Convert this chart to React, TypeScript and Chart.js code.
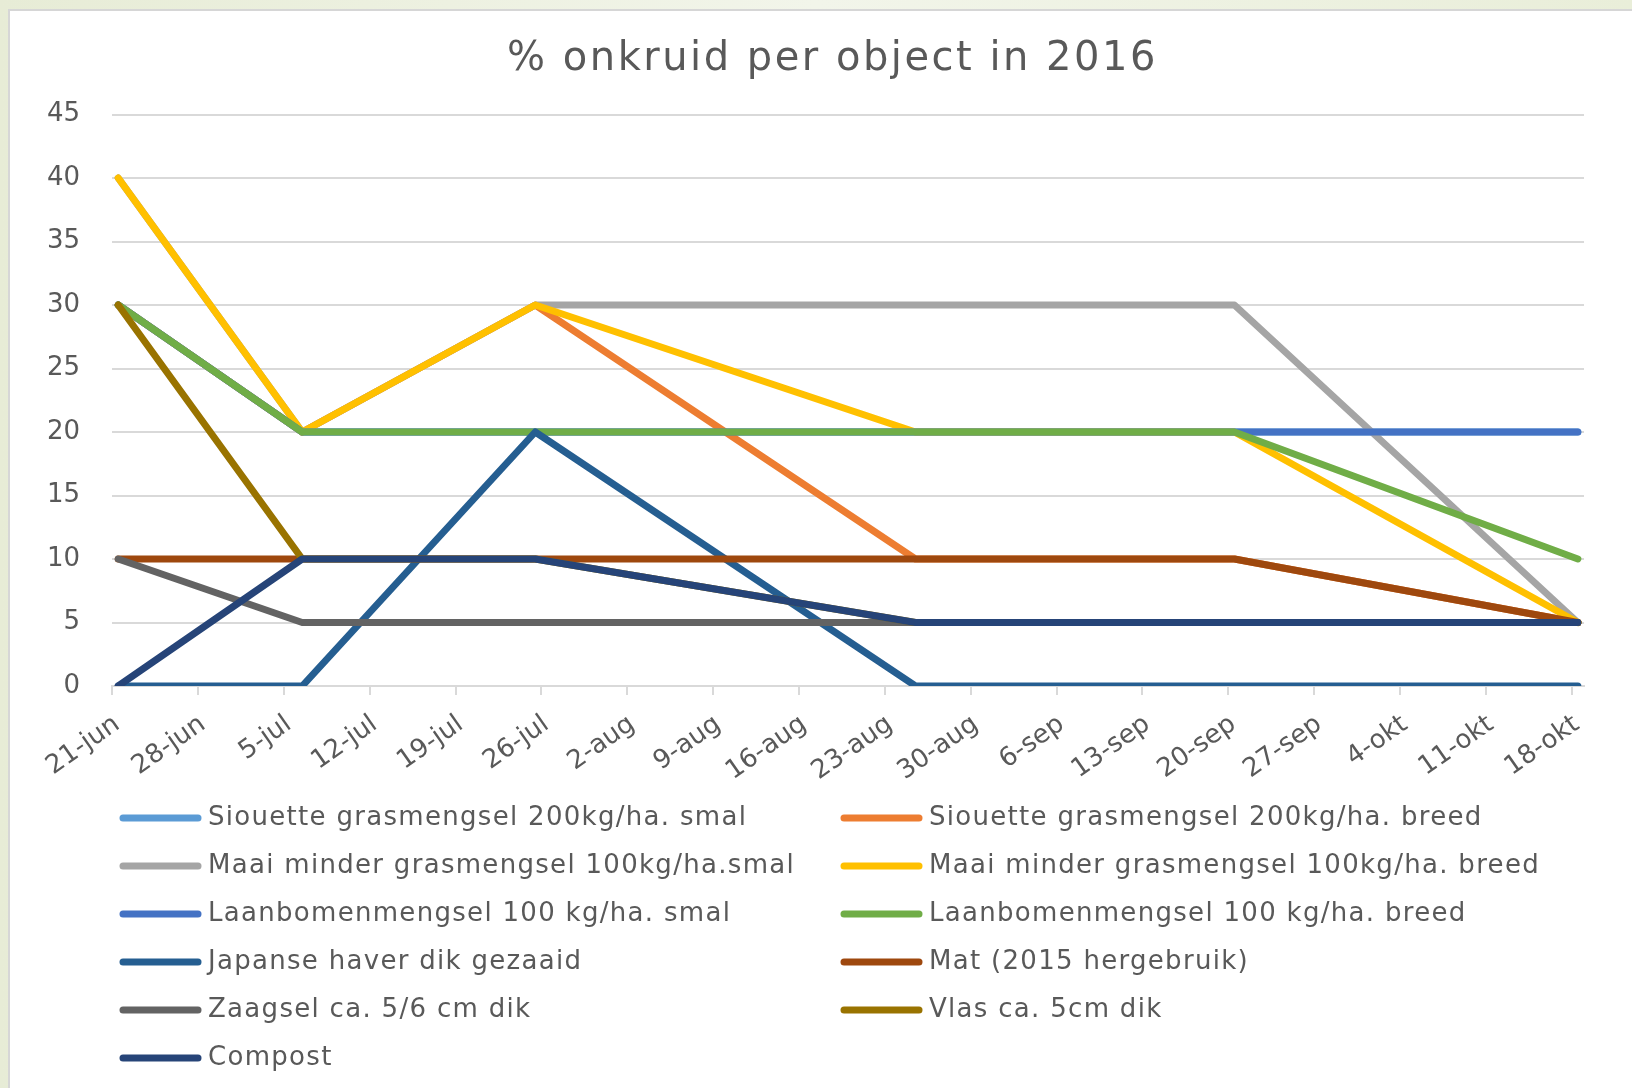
import React, { useEffect, useRef } from "react";
import { Chart, registerables } from "chart.js";

Chart.register(...registerables);

// Tick labels of the weekly date axis (21-jun .. 18-okt 2016)
const tickDates = [
  "21-jun", "28-jun", "5-jul", "12-jul", "19-jul", "26-jul", "2-aug", "9-aug", "16-aug",
  "23-aug", "30-aug", "6-sep", "13-sep", "20-sep", "27-sep", "4-okt", "11-okt", "18-okt",
];

// Observation dates, as days since 21-jun: 21-jun, 6-jul, 25-jul, 25-aug, 20-sep, 18-okt
const sampleDays = [0, 15, 34, 65, 91, 119];

const seriesNames = [
  "Siouette grasmengsel 200kg/ha. smal",
  "Siouette grasmengsel 200kg/ha. breed",
  "Maai minder grasmengsel 100kg/ha.smal",
  "Maai minder grasmengsel 100kg/ha. breed",
  "Laanbomenmengsel 100 kg/ha. smal",
  "Laanbomenmengsel 100 kg/ha. breed",
  "Japanse haver dik gezaaid",
  "Mat (2015 hergebruik)",
  "Zaagsel ca. 5/6 cm dik",
  "Vlas ca. 5cm dik",
  "Compost",
];

const seriesColors = [
  "#5B9BD5", "#ED7D31", "#A5A5A5", "#FFC000", "#4472C4", "#70AD47",
  "#255E91", "#9E480E", "#636363", "#997300", "#264478",
];

// % onkruid per observation date
const siouetteSmal = [30, 20, 20, 20, 20, 20];
const siouetteBreed = [30, 20, 30, 10, 10, 5];
const maaiMinderSmal = [40, 20, 30, 30, 30, 5];
const maaiMinderBreed = [40, 20, 30, 20, 20, 5];
const laanbomenSmal = [30, 20, 20, 20, 20, 20];
const laanbomenBreed = [30, 20, 20, 20, 20, 10];
const japanseHaver = [0, 0, 20, 0, 0, 0];
const mat = [10, 10, 10, 10, 10, 5];
const zaagsel = [10, 5, 5, 5, 5, 5];
const vlas = [30, 10, 10, 5, 5, 5];
const compost = [0, 10, 10, 5, 5, 5];

const seriesValues = [
  siouetteSmal, siouetteBreed, maaiMinderSmal, maaiMinderBreed, laanbomenSmal,
  laanbomenBreed, japanseHaver, mat, zaagsel, vlas, compost,
];

const FONT = "'DejaVu Sans', sans-serif";
const TEXT = "#595959";
const GRID = "#D9D9D9";

const legendPlugin = {
  id: "twoColumnLegend",
  afterDraw(chart: any) {
    const ctx = chart.ctx;
    const top = chart.chartArea.bottom + 132;
    const rowH = 48;
    ctx.save();
    ctx.font = `26px ${FONT}`;
    (ctx as any).letterSpacing = "1.3px";
    ctx.textBaseline = "middle";
    ctx.textAlign = "left";
    chart.data.datasets.forEach((ds: any, i: number) => {
      const col = i % 2;
      const row = Math.floor(i / 2);
      const x0 = col === 0 ? 110 : 831;
      const y = top + row * rowH;
      ctx.strokeStyle = ds.borderColor;
      ctx.lineWidth = 7;
      ctx.lineCap = "round";
      ctx.beginPath();
      ctx.moveTo(x0 + 3, y);
      ctx.lineTo(x0 + 78, y);
      ctx.stroke();
      ctx.fillStyle = TEXT;
      ctx.fillText(ds.label, x0 + 88, y);
    });
    ctx.restore();
  },
};

const titleSpacingPlugin = {
  id: "titleSpacing",
  beforeDraw(chart: any) {
    const tb = chart.titleBlock;
    if (tb && !tb.__wrapped) {
      const orig = tb.draw.bind(tb);
      tb.draw = function (...args: any[]) {
        const c = chart.ctx;
        c.save();
        (c as any).letterSpacing = "2.5px";
        c.translate(33, 0);
        orig(...args);
        c.restore();
      };
      tb.__wrapped = true;
    }
  },
};

export default function App() {
  const ref = useRef<HTMLCanvasElement | null>(null);

  useEffect(() => {
    if (!ref.current) return;
    const n = seriesNames.length;
    const chart = new Chart(ref.current, {
      type: "line",
      data: {
        datasets: seriesNames.map((name, i) => ({
          label: name,
          // each observation is plotted in the middle of its day band
          data: sampleDays.map((d, k) => ({ x: d + 0.5, y: seriesValues[i][k] })),
          borderColor: seriesColors[i],
          backgroundColor: seriesColors[i],
          borderWidth: 7,
          borderCapStyle: "round",
          borderJoinStyle: "round",
          pointRadius: 0,
          pointHoverRadius: 0,
          tension: 0,
          fill: false,
          order: n - 1 - i,
        })),
      },
      plugins: [legendPlugin, titleSpacingPlugin],
      options: {
        animation: false,
        responsive: false,
        maintainAspectRatio: false,
        devicePixelRatio: 1,
        layout: { padding: { left: 5, right: 48, top: 0, bottom: 300 } },
        plugins: {
          legend: { display: false },
          tooltip: { enabled: false },
          title: {
            display: true,
            text: "% onkruid per object in 2016",
            color: TEXT,
            font: { family: FONT, size: 40, weight: "normal", lineHeight: 1.2 },
            padding: { top: 25, bottom: 30.5 },
          },
        },
        scales: {
          x: {
            type: "linear",
            min: 0,
            max: 120,
            afterBuildTicks: (scale: any) => {
              scale.ticks = tickDates.map((_, i) => ({ value: i * 7 }));
            },
            afterFit: (scale: any) => {
              scale.height = 102;
              scale.paddingLeft = 0;
              scale.paddingRight = 0;
            },
            ticks: {
              autoSkip: false,
              minRotation: 35,
              maxRotation: 35,
              padding: 14,
              labelOffset: 5,
              color: TEXT,
              font: { family: FONT, size: 26 },
              callback: (v: any) => tickDates[Math.round(Number(v) / 7)] ?? "",
            },
            grid: {
              display: true,
              drawOnChartArea: false,
              drawTicks: true,
              tickLength: 9,
              color: GRID,
              lineWidth: 2,
            },
            border: { display: true, color: GRID, width: 2 },
          },
          y: {
            type: "linear",
            min: 0,
            max: 45,
            ticks: {
              stepSize: 5,
              autoSkip: false,
              padding: 32,
              color: TEXT,
              font: { family: FONT, size: 26 },
            },
            grid: { color: GRID, lineWidth: 2, drawTicks: false },
            border: { display: false },
          },
        },
      },
    } as any);
    return () => chart.destroy();
  }, []);

  return (
    <div
      style={{
        position: "fixed",
        left: 0,
        top: 0,
        width: 1632,
        height: 1088,
        overflow: "hidden",
        background: "linear-gradient(90deg, #E7ECD6 0%, #F2F5EA 50%, #E9EED9 100%)",
      }}
    >
      <div
        style={{
          position: "absolute",
          left: 8,
          top: 9,
          width: 1640,
          height: 1100,
          background: "#FFFFFF",
          borderLeft: "2px solid #D6D6D6",
          borderTop: "2px solid #D6D6D6",
        }}
      >
        <canvas
          ref={ref}
          width={1622}
          height={1077}
          style={{ position: "absolute", left: 0, top: 0, width: 1622, height: 1077 }}
        />
      </div>
    </div>
  );
}
